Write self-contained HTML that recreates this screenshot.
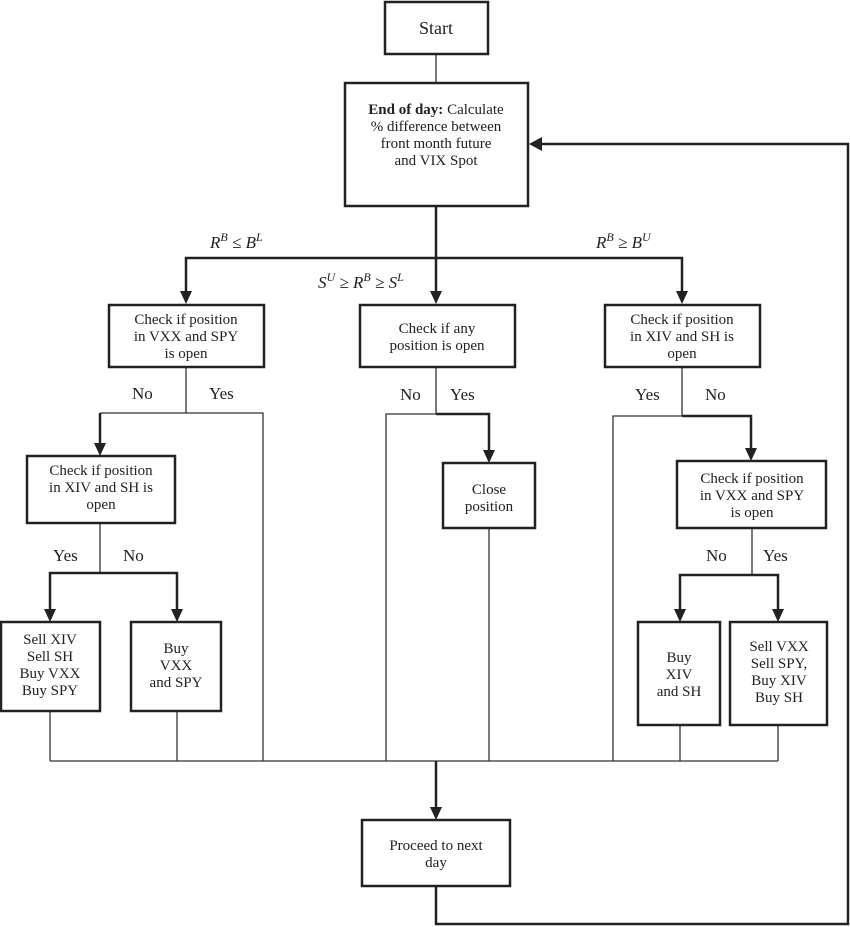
<!DOCTYPE html>
<html><head><meta charset="utf-8"><style>
html,body{margin:0;padding:0;background:#fff;}
svg{display:block;}
text{font-family:"Liberation Serif",serif;font-size:15px;fill:#222;}
.m{font-style:italic;font-size:17px;}
</style></head><body>
<svg width="850" height="927" viewBox="0 0 850 927" xmlns="http://www.w3.org/2000/svg">
<g fill="none" stroke="#333" stroke-width="1.3">
<line x1="436" y1="54" x2="436" y2="82"/>
<polyline points="100,413 186,413 186,367"/>
<polyline points="186,413 263,413 263,761"/>
<polyline points="386,761 386,414 436,414 436,367"/>
<polyline points="613,761 613,416 682,416 682,367"/>
<line x1="100" y1="523" x2="100" y2="573"/>
<line x1="752" y1="528" x2="752" y2="575"/>
<line x1="489" y1="528" x2="489" y2="761"/>
<line x1="50" y1="711" x2="50" y2="761"/>
<line x1="177" y1="711" x2="177" y2="761"/>
<line x1="680" y1="725" x2="680" y2="761"/>
<line x1="778" y1="725" x2="778" y2="761"/>
<line x1="50" y1="761" x2="778" y2="761"/>
</g>
<g fill="none" stroke="#222" stroke-width="2.5">
<line x1="436" y1="206" x2="436" y2="294"/>
<polyline points="186,294 186,258 682,258 682,294"/>
<line x1="100" y1="413" x2="100" y2="446"/>
<polyline points="436,414 489,414 489,453"/>
<polyline points="682,416 751,416 751,451"/>
<polyline points="50,612 50,573 177,573 177,612"/>
<polyline points="680,612 680,575 778,575 778,612"/>
<line x1="436" y1="761" x2="436" y2="810"/>
<polyline points="436,886 436,924 848,924 848,144 538,144"/>
</g>
<g fill="#222">
<polygon points="430,291 442,291 436,304"/>
<polygon points="180,291 192,291 186,304"/>
<polygon points="676,291 688,291 682,304"/>
<polygon points="94,443 106,443 100,456"/>
<polygon points="483,450 495,450 489,463"/>
<polygon points="745,448 757,448 751,461"/>
<polygon points="44,609 56,609 50,622"/>
<polygon points="171,609 183,609 177,622"/>
<polygon points="674,609 686,609 680,622"/>
<polygon points="772,609 784,609 778,622"/>
<polygon points="430,807 442,807 436,820"/>
<polygon points="542,137 542,151 529,144"/>
</g>
<g fill="#fff" stroke="#222" stroke-width="2.5">
<rect x="385" y="2" width="103" height="52"/>
<rect x="345" y="83" width="183" height="123"/>
<rect x="109" y="305" width="155" height="62"/>
<rect x="360" y="305" width="155" height="62"/>
<rect x="605" y="305" width="155" height="62"/>
<rect x="27" y="456" width="148" height="67"/>
<rect x="443" y="463" width="92" height="65"/>
<rect x="677" y="461" width="149" height="67"/>
<rect x="1" y="622" width="99" height="89"/>
<rect x="131" y="622" width="90" height="89"/>
<rect x="638" y="622" width="82" height="103"/>
<rect x="730" y="622" width="97" height="103"/>
<rect x="362" y="820" width="148" height="66"/>
</g>
<g text-anchor="middle">
<text x="436" y="34" style="font-size:18px">Start</text>
<text x="436" y="114"><tspan font-weight="bold">End of day:</tspan> Calculate</text>
<text x="436" y="131">% difference between</text>
<text x="436" y="148">front month future</text>
<text x="436" y="165">and VIX Spot</text>
<text x="186" y="324">Check if position</text>
<text x="186" y="341">in VXX and SPY</text>
<text x="186" y="358">is open</text>
<text x="437" y="333">Check if any</text>
<text x="437" y="350">position is open</text>
<text x="682" y="324">Check if position</text>
<text x="682" y="341">in XIV and SH is</text>
<text x="682" y="358">open</text>
<text x="101" y="475">Check if position</text>
<text x="101" y="492">in XIV and SH is</text>
<text x="101" y="509">open</text>
<text x="489" y="494">Close</text>
<text x="489" y="511">position</text>
<text x="752" y="483">Check if position</text>
<text x="752" y="500">in VXX and SPY</text>
<text x="752" y="517">is open</text>
<text x="50" y="644">Sell XIV</text>
<text x="50" y="661">Sell SH</text>
<text x="50" y="678">Buy VXX</text>
<text x="50" y="695">Buy SPY</text>
<text x="176" y="653">Buy</text>
<text x="176" y="670">VXX</text>
<text x="176" y="687">and SPY</text>
<text x="679" y="662">Buy</text>
<text x="679" y="679">XIV</text>
<text x="679" y="696">and SH</text>
<text x="779" y="651">Sell VXX</text>
<text x="779" y="668">Sell SPY,</text>
<text x="779" y="685">Buy XIV</text>
<text x="779" y="702">Buy SH</text>
<text x="436" y="850">Proceed to next</text>
<text x="436" y="867">day</text>
</g>
<g>
<text x="132" y="399" style="font-size:17px">No</text>
<text x="209" y="399" style="font-size:17px">Yes</text>
<text x="400" y="400" style="font-size:17px">No</text>
<text x="450" y="400" style="font-size:17px">Yes</text>
<text x="635" y="400" style="font-size:17px">Yes</text>
<text x="705" y="400" style="font-size:17px">No</text>
<text x="53" y="561" style="font-size:17px">Yes</text>
<text x="123" y="561" style="font-size:17px">No</text>
<text x="706" y="561" style="font-size:17px">No</text>
<text x="763" y="561" style="font-size:17px">Yes</text>
</g>
<text x="210" y="248" class="m">R<tspan dy="-7" font-size="12">B</tspan><tspan dy="7">  ≤  B</tspan><tspan dy="-7" font-size="12">L</tspan></text>
<text x="596" y="248" class="m">R<tspan dy="-7" font-size="12">B</tspan><tspan dy="7">  ≥  B</tspan><tspan dy="-7" font-size="12">U</tspan></text>
<text x="318" y="288" class="m">S<tspan dy="-7" font-size="12">U</tspan><tspan dy="7">  ≥  R</tspan><tspan dy="-7" font-size="12">B</tspan><tspan dy="7">  ≥  S</tspan><tspan dy="-7" font-size="12">L</tspan></text>
</svg>
</body></html>
